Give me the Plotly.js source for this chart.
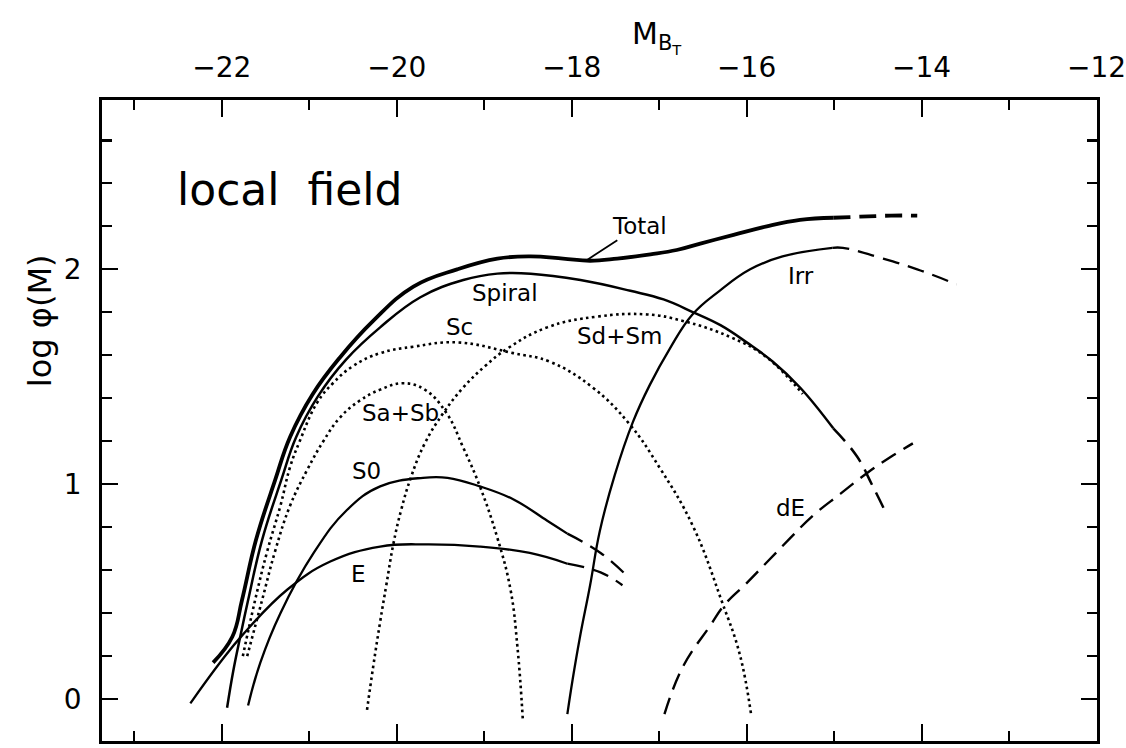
<!DOCTYPE html>
<html>
<head>
<meta charset="utf-8">
<script src="https://cdn.plot.ly/plotly-3.0.1.min.js"></script>
<style>
  html, body { margin: 0; padding: 0; background: #fff; }
  #chart { width: 1126px; height: 748px; }
</style>
</head>
<body>
<div id="chart"></div>
<script>
// Luminosity function of the local field, split by morphological type.
// x: absolute blue magnitude M_BT, y: log phi(M)

// Total (solid part, then dashed extrapolation)
const totalX = [-22.10, -21.88, -21.77, -21.61, -21.39, -21.22, -20.96, -20.65, -20.27, -19.81, -19.31, -18.85, -18.47, -18.10, -17.79, -17.48, -17.10, -16.80, -16.53, -16.15, -15.77, -15.39, -15.01];
const totalY = [0.17, 0.29, 0.46, 0.74, 1.02, 1.22, 1.42, 1.59, 1.76, 1.92, 2.00, 2.05, 2.06, 2.05, 2.04, 2.05, 2.07, 2.09, 2.12, 2.16, 2.20, 2.23, 2.24];
const totalDashX = [-15.01, -14.70, -14.35, -14.05];
const totalDashY = [2.24, 2.245, 2.25, 2.25];

// Spiral (all spiral types together)
const spiralX = [-21.94, -21.87, -21.79, -21.70, -21.54, -21.32, -21.15, -20.90, -20.58, -20.19, -19.73, -19.24, -18.85, -18.47, -17.90, -17.33, -16.95, -16.61, -16.30, -16.00, -15.70, -15.39, -15.01];
const spiralY = [-0.04, 0.13, 0.29, 0.46, 0.74, 1.02, 1.22, 1.41, 1.58, 1.73, 1.87, 1.95, 1.98, 1.98, 1.95, 1.90, 1.86, 1.80, 1.74, 1.66, 1.57, 1.45, 1.26];
const spiralDashX = [-15.01, -14.74, -14.57, -14.40];
const spiralDashY = [1.26, 1.13, 1.00, 0.86];

// Ellipticals
const ellX = [-22.36, -22.02, -21.76, -21.25, -20.76, -20.19, -19.65, -19.05, -18.48, -18.05];
const ellY = [-0.02, 0.17, 0.30, 0.51, 0.64, 0.71, 0.72, 0.71, 0.68, 0.63];
const ellDashX = [-18.05, -17.67, -17.42];
const ellDashY = [0.63, 0.59, 0.53];

// S0
const s0X = [-21.70, -21.56, -21.33, -20.95, -20.57, -20.19, -19.70, -19.42, -19.05, -18.67, -18.28, -18.05];
const s0Y = [-0.03, 0.17, 0.40, 0.68, 0.88, 0.99, 1.03, 1.03, 0.99, 0.93, 0.83, 0.77];
const s0DashX = [-18.05, -17.67, -17.36];
const s0DashY = [0.77, 0.68, 0.57];

// Sa+Sb (dotted)
const sabX = [-21.71, -21.54, -21.39, -21.22, -21.02, -20.84, -20.65, -20.42, -20.19, -19.93, -19.68, -19.43, -19.24, -19.05, -18.85, -18.70, -18.62, -18.56];
const sabY = [0.20, 0.46, 0.69, 0.90, 1.07, 1.20, 1.31, 1.39, 1.44, 1.47, 1.44, 1.33, 1.17, 0.99, 0.75, 0.51, 0.24, -0.09];

// Sc (dotted)
const scX = [-21.76, -21.62, -21.48, -21.33, -21.22, -21.11, -20.91, -20.73, -20.50, -20.19, -19.81, -19.31, -18.67, -18.25, -17.76, -17.34, -17.00, -16.62, -16.28, -16.08, -15.95];
const scY = [0.20, 0.46, 0.69, 0.90, 1.08, 1.20, 1.38, 1.47, 1.55, 1.61, 1.64, 1.66, 1.61, 1.57, 1.45, 1.28, 1.08, 0.81, 0.45, 0.21, -0.07];

// Sd+Sm (dotted)
const sdmX = [-20.34, -20.27, -20.19, -20.12, -20.04, -19.95, -19.84, -19.68, -19.47, -19.24, -18.99, -18.74, -18.28, -17.71, -17.14, -16.73, -16.16, -15.77, -15.36];
const sdmY = [-0.05, 0.15, 0.36, 0.53, 0.72, 0.88, 1.03, 1.19, 1.33, 1.45, 1.55, 1.63, 1.73, 1.78, 1.79, 1.76, 1.68, 1.59, 1.42];

// Irregulars
const irrX = [-18.05, -17.99, -17.91, -17.79, -17.68, -17.51, -17.30, -17.11, -16.88, -16.62, -16.31, -15.96, -15.59, -15.02];
const irrY = [-0.07, 0.09, 0.28, 0.53, 0.78, 1.04, 1.29, 1.46, 1.63, 1.79, 1.90, 2.00, 2.06, 2.10];
const irrDashX = [-15.02, -14.90, -14.44, -14.05, -13.60];
const irrDashY = [2.10, 2.10, 2.05, 2.00, 1.93];

// Dwarf ellipticals (dashed throughout)
const dEX = [-16.94, -16.73, -16.42, -16.25, -16.00, -15.75, -15.50, -15.24, -14.93, -14.63, -14.36, -14.10];
const dEY = [-0.07, 0.15, 0.34, 0.44, 0.54, 0.645, 0.75, 0.855, 0.955, 1.05, 1.125, 1.19];

// Curve labels
const labelText = ['Spiral', 'Sc', 'Sd+Sm', 'Sa+Sb', 'S0', 'E', 'Irr', 'dE'];
const labelX = [-18.76, -19.28, -17.45, -19.96, -20.35, -20.44, -15.38, -15.50];
const labelY = [1.89, 1.73, 1.69, 1.33, 1.06, 0.58, 1.97, 0.89];

const FONT = 'DejaVu Sans, Verdana, sans-serif';
const DASH = '17px,9px';
const DOT = '2.6px,3.4px';

function curve(x, y, width, dash) {
  return {
    x: x, y: y, type: 'scatter', mode: 'lines',
    line: { color: '#000', width: width, dash: dash, shape: 'spline', smoothing: 1.2 },
    hoverinfo: 'skip', showlegend: false
  };
}

const data = [
  curve(totalX, totalY, 3.8, 'solid'),
  curve(totalDashX, totalDashY, 3.8, DASH),
  curve(spiralX, spiralY, 2.5, 'solid'),
  curve(spiralDashX, spiralDashY, 2.5, DASH),
  curve(ellX, ellY, 2.3, 'solid'),
  curve(ellDashX, ellDashY, 2.3, DASH),
  curve(s0X, s0Y, 2.3, 'solid'),
  curve(s0DashX, s0DashY, 2.3, DASH),
  curve(sabX, sabY, 2.6, DOT),
  curve(scX, scY, 2.6, DOT),
  curve(sdmX, sdmY, 2.6, DOT),
  curve(irrX, irrY, 2.3, 'solid'),
  curve(irrDashX, irrDashY, 2.3, DASH),
  curve(dEX, dEY, 2.4, DASH)
];

const annotations = labelText.map((t, i) => ({
  x: labelX[i], y: labelY[i], xref: 'x', yref: 'y', text: t, showarrow: false,
  font: { family: FONT, size: 23, color: '#000' }, xanchor: 'center', yanchor: 'middle'
}));

// "Total" label with a short leader to the curve
annotations.push({
  x: -17.82, y: 2.045, xref: 'x', yref: 'y', text: 'Total',
  showarrow: true, arrowhead: 0, arrowwidth: 1.8, arrowcolor: '#000', standoff: 0,
  ax: 52, ay: -34, font: { family: FONT, size: 23, color: '#000' }
});

// Panel caption
annotations.push({
  x: -22.53, y: 2.37, xref: 'x', yref: 'y', text: 'local  field', showarrow: false,
  xanchor: 'left', yanchor: 'middle', font: { family: FONT, size: 44, color: '#000' }
});

// Axis titles
annotations.push({
  x: 0.558, y: 1.098, xref: 'paper', yref: 'paper', showarrow: false,
  text: 'M<sub>B</sub><sub><sub>T</sub></sub>', xanchor: 'center', yanchor: 'middle',
  font: { family: FONT, size: 30, color: '#000' }
});
annotations.push({
  x: -0.0623, y: 0.655, xref: 'paper', yref: 'paper', showarrow: false,
  text: 'log \u03C6(M)', textangle: -90, xanchor: 'center', yanchor: 'middle',
  font: { family: FONT, size: 32, color: '#000' }
});

const layout = {
  width: 1126, height: 748,
  margin: { l: 102, r: 29, t: 100, b: 7 },
  paper_bgcolor: '#fff', plot_bgcolor: '#fff',
  showlegend: false,
  xaxis: {
    side: 'top', range: [-23.37, -11.995],
    tickmode: 'linear', tick0: -22, dtick: 2,
    ticks: 'inside', ticklen: 17, tickwidth: 2.2, tickcolor: '#000',
    minor: { tick0: -23, dtick: 1, ticks: 'inside', ticklen: 10, tickwidth: 2.2, tickcolor: '#000' },
    mirror: 'allticks', showline: true, linecolor: '#000', linewidth: 2.8,
    showgrid: false, zeroline: false, ticklabelstandoff: 9, ticklabeloverflow: 'allow',
    tickfont: { family: FONT, size: 28, color: '#000' }
  },
  yaxis: {
    range: [-0.195, 2.788],
    tickmode: 'linear', tick0: 0, dtick: 1,
    ticks: 'inside', ticklen: 16, tickwidth: 2.2, tickcolor: '#000',
    minor: { tick0: 0, dtick: 0.2, ticks: 'inside', ticklen: 10, tickwidth: 2.2, tickcolor: '#000' },
    mirror: 'allticks', showline: true, linecolor: '#000', linewidth: 2.8,
    showgrid: false, zeroline: false, ticklabelstandoff: 12,
    tickfont: { family: FONT, size: 28, color: '#000' }
  },
  annotations: annotations
};

Plotly.newPlot('chart', data, layout, { displayModeBar: false, staticPlot: true });
</script>
</body>
</html>
